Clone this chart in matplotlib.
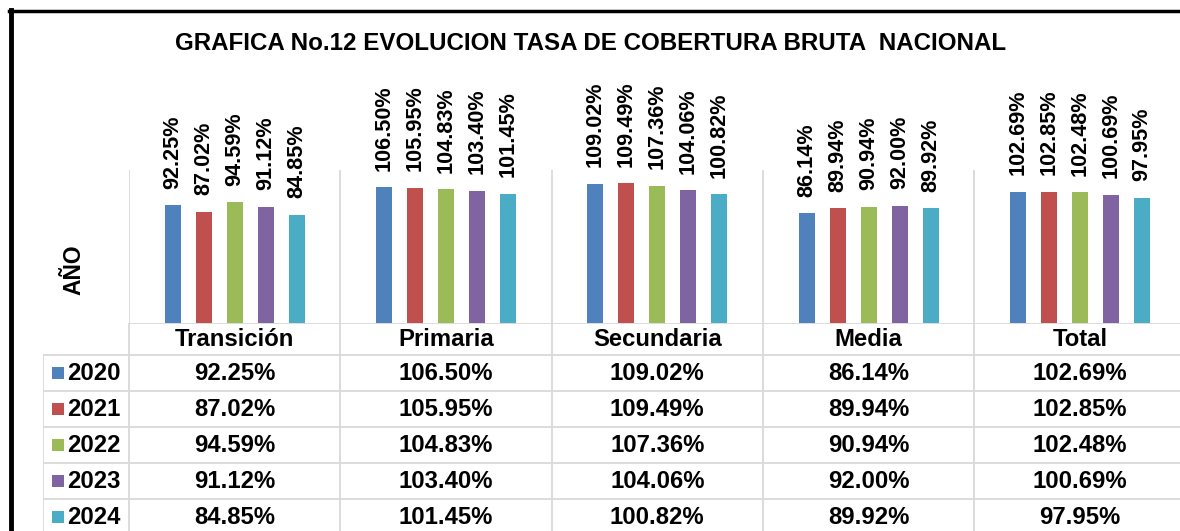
import numpy as np
import matplotlib.pyplot as plt
from matplotlib.lines import Line2D
from matplotlib.transforms import ScaledTranslation

plt.rcParams["font.family"] = ["Liberation Sans", "DejaVu Sans"]
plt.rcParams["font.weight"] = "bold"

# ---------------------------------------------------------------------------
# Data
# ---------------------------------------------------------------------------
levels = ["Transición", "Primaria", "Secundaria", "Media", "Total"]
years = ["2020", "2021", "2022", "2023", "2024"]
rate_2020 = [92.25, 106.50, 109.02, 86.14, 102.69]
rate_2021 = [87.02, 105.95, 109.49, 89.94, 102.85]
rate_2022 = [94.59, 104.83, 107.36, 90.94, 102.48]
rate_2023 = [91.12, 103.40, 104.06, 92.00, 100.69]
rate_2024 = [84.85, 101.45, 100.82, 89.92, 97.95]
series = [rate_2020, rate_2021, rate_2022, rate_2023, rate_2024]
colors = ["#4F81BD", "#C0504D", "#9BBB59", "#8064A2", "#4BACC6"]

title = "GRAFICA No.12 EVOLUCION TASA DE COBERTURA BRUTA  NACIONAL"

# ---------------------------------------------------------------------------
# Layout (pixels of a 1180x531 figure)
# ---------------------------------------------------------------------------
W, H = 1180, 531
plot_left, plot_right = 129, 1185.5
plot_top, plot_bottom = 170, 323
legend_left = 43
header_h, row_h = 32, 36
grid_c = "#d9d9d9"
tab_fs = 17.2

fig = plt.figure(figsize=(W / 100, H / 100), dpi=100, facecolor="white")

# main bar axes
ax = fig.add_axes([plot_left / W, (H - plot_bottom) / H,
                   (plot_right - plot_left) / W, (plot_bottom - plot_top) / H])
x = np.arange(len(levels))
step, bar_w = 0.1467, 0.0757
for k, (vals, c) in enumerate(zip(series, colors)):
    xs = x + (k - 2) * step
    ax.bar(xs, vals, width=bar_w, color=c, zorder=3)
    for xi, v in zip(xs, vals):
        ax.annotate(f"{v:.2f}%", (xi, v), xytext=(0, 12), textcoords="offset points",
                    rotation=90, ha="center", va="bottom", fontsize=15.6,
                    fontweight="bold", annotation_clip=False)
ax.set_xlim(-0.5, len(levels) - 0.5)
ax.set_ylim(0, 120)
for s in ax.spines.values():
    s.set_visible(False)
ax.set_xticks([])
ax.set_yticks([])
for b in np.arange(-0.5, len(levels) - 0.5):
    ax.axvline(b, color=grid_c, lw=1.3, zorder=1)

# data table axes
x_leg = -0.5 - (plot_left - legend_left) / (plot_right - plot_left) * len(levels)
tab_h = H - plot_bottom
tax = fig.add_axes([legend_left / W, 0, (plot_right - legend_left) / W, tab_h / H])
top_units = header_h / row_h
tax.set_xlim(x_leg, len(levels) - 0.5)
tax.set_ylim(tab_h / row_h - top_units, -top_units)
tax.axis("off")

tax.hlines(-top_units, -0.5, len(levels) - 0.5, color=grid_c, lw=1.3)
tax.hlines(np.arange(len(years) + 1), x_leg, len(levels) - 0.5, color=grid_c, lw=1.3)
tax.vlines(np.arange(-0.5, len(levels) - 0.5), -top_units, len(years) + 1, color=grid_c, lw=1.3)
tax.vlines(x_leg, 0, len(years) + 1, color=grid_c, lw=1.3)

swatch_shift = tax.transData + ScaledTranslation(14.5 / 100, 0, fig.dpi_scale_trans)
for i, name in enumerate(levels):
    tax.text(i, -top_units / 2, name, ha="center", va="center", fontsize=tab_fs, fontweight="bold")
for r, (yr, vals, c) in enumerate(zip(years, series, colors)):
    tax.plot([x_leg], [r + 0.5], marker="s", ms=9.3, color=c, mew=0, transform=swatch_shift)
    tax.annotate(yr, (x_leg, r + 0.5), xytext=(17.5, 0), textcoords="offset points",
                 ha="left", va="center", fontsize=tab_fs, fontweight="bold")
    for i, v in enumerate(vals):
        tax.text(i, r + 0.5, f"{v:.2f}%", ha="center", va="center", fontsize=tab_fs, fontweight="bold")

# side label and title
fig.text(74 / W, 1 - 270 / H, "AÑO", rotation=90, ha="center", va="center",
         fontsize=16.5, fontweight="bold")
fig.text(591 / W, 1 - 43 / H, title, ha="center", va="center", fontsize=17.4, fontweight="bold")

# outer black frame (partially cropped)
fig.add_artist(Line2D([11 / W, 11 / W], [0, 1 - 10 / H], color="black", lw=3.5))
fig.add_artist(Line2D([9 / W, 1], [1 - 11 / H, 1 - 11 / H], color="black", lw=2.5))

fig.savefig("out.png", dpi=100, facecolor="white")
